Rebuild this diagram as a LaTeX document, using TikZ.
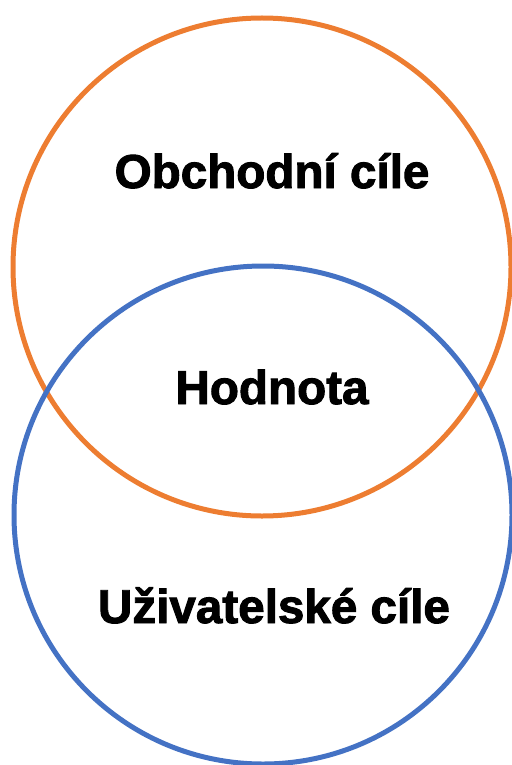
\documentclass[tikz,border=0pt]{standalone}
\usepackage{fontspec}
\setmainfont{Liberation Sans}[BoldFeatures={FakeBold=2}]
\usepackage{xcolor}
\definecolor{bizorange}{HTML}{ED7D31}
\definecolor{userblue}{HTML}{4472C4}

\begin{document}
\begin{tikzpicture}[x=1pt, y=-1pt,
  ring/.style={circle, draw=#1, line width=5pt, minimum size=498pt, inner sep=0pt},
  lbl/.style={anchor=base, font=\fontsize{47.6}{50}\selectfont\bfseries}]
\useasboundingbox (0,0) rectangle (511,765);
% Two overlapping goal circles.
\node[ring=bizorange] (business) at (262,267) {};
\node[ring=userblue] (user) at (263,515) {};
% Labels: top, overlap, bottom.
\node[lbl] (bizlabel) at (272,188) {Obchodní cíle};
\node[lbl] (value) at (272,404) {Hodnota};
\node[lbl] (userlabel) at (274,623) {Uživatelské cíle};
\end{tikzpicture}
\end{document}
